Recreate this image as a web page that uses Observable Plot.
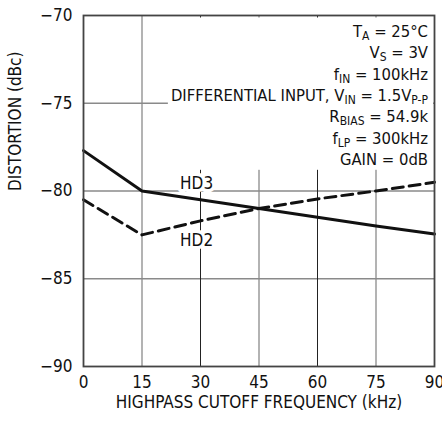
<!DOCTYPE html>
<html><head><meta charset="utf-8">
<script src="https://cdn.jsdelivr.net/npm/d3@7"></script>
<script src="https://cdn.jsdelivr.net/npm/@observablehq/plot@0.6"></script>
<style>body{margin:0;background:#fff} svg{display:block}</style>
</head><body><div id="chart"></div><script>
// ---- data ----
const freq = [0, 15, 30, 45, 60, 75, 90];
const hd3 = [-77.7, -80, -80.5, -81, -81.5, -82, -82.45];
const hd2 = [-80.5, -82.5, -81.7, -81, -80.45, -80, -79.5];
const xTicks = [0, 15, 30, 45, 60, 75, 90];
const yTicks = [-90, -85, -80, -75, -70];
const hGrid = [-75, -80, -85];
const grayV = [15, 45, 75];
const darkV = [30, 60];
const seriesLabels = ["HD3", "HD2"];
const seriesLabelX = [29, 29];
const seriesLabelY = [-79.55, -82.8];
const xTitle = "HIGHPASS CUTOFF FREQUENCY (kHz)";
const yTitle = "DISTORTION (dBc)";
// annotation lines: segments [text, isSubscript]
const notes = [
  [["T", 0], ["A", 1], [" = 25°C", 0]],
  [["V", 0], ["S", 1], [" = 3V", 0]],
  [["f", 0], ["IN", 1], [" = 100kHz", 0]],
  [["DIFFERENTIAL INPUT, V", 0], ["IN", 1], [" = 1.5V", 0], ["P-P", 1]],
  [["R", 0], ["BIAS", 1], [" = 54.9k", 0]],
  [["f", 0], ["LP", 1], [" = 300kHz", 0]],
  [["GAIN = 0dB", 0]]
];

const FONT = `"DejaVu Sans Condensed","DejaVu Sans",sans-serif`;
const INK = "#111";
const FS = 17;
const NOTE_FS = 16.5, NOTE_FIRST = 22, NOTE_STEP = 21.3, SUB_FS = 12, SUB_DY = 3;

const hd3Data = freq.map((f, i) => ({f, v: hd3[i]}));
const hd2Data = freq.map((f, i) => ({f, v: hd2[i]}));
const labelData = seriesLabels.map((t, i) => ({t, x: seriesLabelX[i], y: seriesLabelY[i]}));

const plot = Plot.plot({
  width: 442, height: 421,
  marginLeft: 83, marginRight: 8, marginTop: 15, marginBottom: 55,
  style: {fontFamily: FONT, fontSize: FS + "px", color: INK, background: "#fff"},
  x: {domain: [0, 90]},
  y: {domain: [-90, -70]},
  marks: [
    Plot.ruleY(hGrid, {stroke: "#8a8a8a", strokeWidth: 1.3}),
    Plot.ruleX(grayV, {stroke: "#8a8a8a", strokeWidth: 1.3}),
    Plot.ruleX(darkV, {stroke: "#222", strokeWidth: 1}),
    Plot.axisX({ticks: xTicks, tickSize: 0, tickPadding: 9, fontSize: FS, label: null, fill: INK}),
    Plot.axisY({ticks: yTicks, tickSize: 0, tickPadding: 11, fontSize: FS, label: null, fill: INK}),
    Plot.text(labelData, {x: "x", y: "y", text: "t", fill: INK, stroke: "white", strokeWidth: 7, paintOrder: "stroke", fontSize: FS}),
    Plot.line(hd3Data, {x: "f", y: "v", stroke: INK, strokeWidth: 3}),
    Plot.line(hd2Data, {x: "f", y: "v", stroke: INK, strokeWidth: 3, strokeDasharray: "11,6"}),
    Plot.frame({stroke: "#444", strokeWidth: 1.8}),
    Plot.text([xTitle], {frameAnchor: "bottom", lineAnchor: "middle", dy: 36, fontSize: FS, fill: INK}),
    Plot.text([yTitle], {frameAnchor: "left", rotate: -90, dx: -68, fontSize: FS, fill: INK})
  ]
});

document.getElementById("chart").appendChild(plot);

// annotation block, positioned from the plot's own scales
(function () {
  const sx = plot.scale("x"), sy = plot.scale("y");
  const svg = d3.select(plot);
  const rightX = sx.apply(90) - 6;
  const topY = sy.apply(-70);
  const g = svg.insert("g", 'g[aria-label="line"]').attr("aria-label", "notes");
  const tg = g.append("g").attr("font-family", FONT).attr("font-size", NOTE_FS).attr("fill", INK).attr("text-anchor", "end");
  notes.forEach((segs, i) => {
    const t = tg.append("text").attr("x", rightX).attr("y", topY + NOTE_FIRST + i * NOTE_STEP);
    let shifted = false;
    segs.forEach(([s, sub]) => {
      const ts = t.append("tspan").text(s);
      if (sub && !shifted) { ts.attr("dy", SUB_DY).attr("font-size", SUB_FS); shifted = true; }
      else if (sub) { ts.attr("font-size", SUB_FS); }
      else if (shifted) { ts.attr("dy", -SUB_DY); shifted = false; }
    });
  });
  const bb = tg.node().getBBox();
  g.insert("rect", ":first-child")
    .attr("x", bb.x - 3).attr("y", topY + 2.5)
    .attr("width", sx.apply(90) - 1 - (bb.x - 3))
    .attr("height", bb.y + bb.height + 1 - (topY + 2.5))
    .attr("fill", "white");
})();
</script></body></html>
